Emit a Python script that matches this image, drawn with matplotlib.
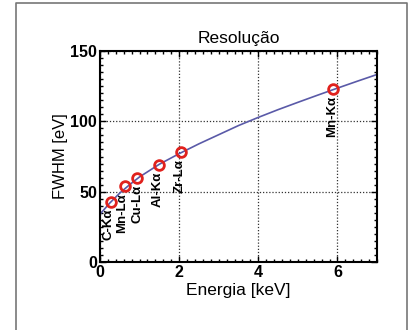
import matplotlib
matplotlib.use("Agg")
import matplotlib.pyplot as plt
from matplotlib.lines import Line2D
from matplotlib.ticker import MultipleLocator

plt.rcParams['font.family'] = ['Liberation Sans', 'DejaVu Sans']

# measured lines
line_names = ["C-K\u03b1", "Mn-L\u03b1", "Cu-L\u03b1", "Al-K\u03b1", "Zr-L\u03b1", "Mn-K\u03b1"]
line_energy = [0.277, 0.637, 0.93, 1.487, 2.04, 5.9]
line_fwhm = [43, 54, 60, 69, 78, 123]

# fitted curve
curve_energy = [0, 0.25, 0.5, 0.75, 1, 1.5, 2, 2.5, 3, 3.5, 4, 4.5, 5, 5.5, 6, 6.5, 7]
curve_fwhm = [34, 42, 49, 55, 60.5, 69.5, 77, 84, 90.5, 97, 102.8, 108.3, 113.5, 118.6, 123.6, 128.5, 133.3]

fig = plt.figure(figsize=(4.12, 3.30), dpi=100)
ax = fig.add_axes([100/412, 1-262/330, 277/412, 211/330])

ax.plot(curve_energy, curve_fwhm, color='#5a5aa8', lw=1.2, zorder=2)
ax.plot(line_energy, line_fwhm, 'o', mfc='none', mec='#e0211d', ms=7, mew=2, zorder=3)

# small sideways nudges keep the crowded labels apart
label_dx = [-1.5, -2.5, 0.5, -1, -1, -1]
for name, e, f, dx in zip(line_names, line_energy, line_fwhm, label_dx):
    ax.annotate(name, (e, f), xytext=(dx, -5), textcoords='offset points',
                rotation=90, ha='center', va='top', fontsize=9.5, fontweight='bold')

ax.set_xlim(0, 7)
ax.set_ylim(0, 150)
ax.xaxis.set_major_locator(MultipleLocator(2))
ax.xaxis.set_minor_locator(MultipleLocator(0.2))
ax.yaxis.set_major_locator(MultipleLocator(50))
ax.yaxis.set_minor_locator(MultipleLocator(5))
ax.tick_params(which='both', direction='in', top=True, right=True, width=1)
ax.tick_params(which='major', length=4, labelsize=11.5, pad=2)
ax.tick_params(which='minor', length=2.5)
for lab in ax.get_xticklabels() + ax.get_yticklabels():
    lab.set_fontweight('bold')
for s in ax.spines.values():
    s.set_linewidth(1.5)
ax.grid(True, which='major', color='#333333', ls=(0, (1, 1.5)), lw=0.9)

ax.set_title("Resolu\u00e7\u00e3o", fontsize=12.5, pad=6)
ax.set_xlabel("Energia [keV]", fontsize=12.5, labelpad=2)
ax.set_ylabel("FWHM [eV]", fontsize=12, labelpad=2)

# outer frame (open at the bottom)
fx = [16/412, 16/412, 407/412, 407/412]
fy = [-0.1, 1-3/330, 1-3/330, -0.1]
fig.add_artist(Line2D(fx, fy, transform=fig.transFigure, color='#777777', lw=1.2))

fig.savefig("out.png", dpi=100)
